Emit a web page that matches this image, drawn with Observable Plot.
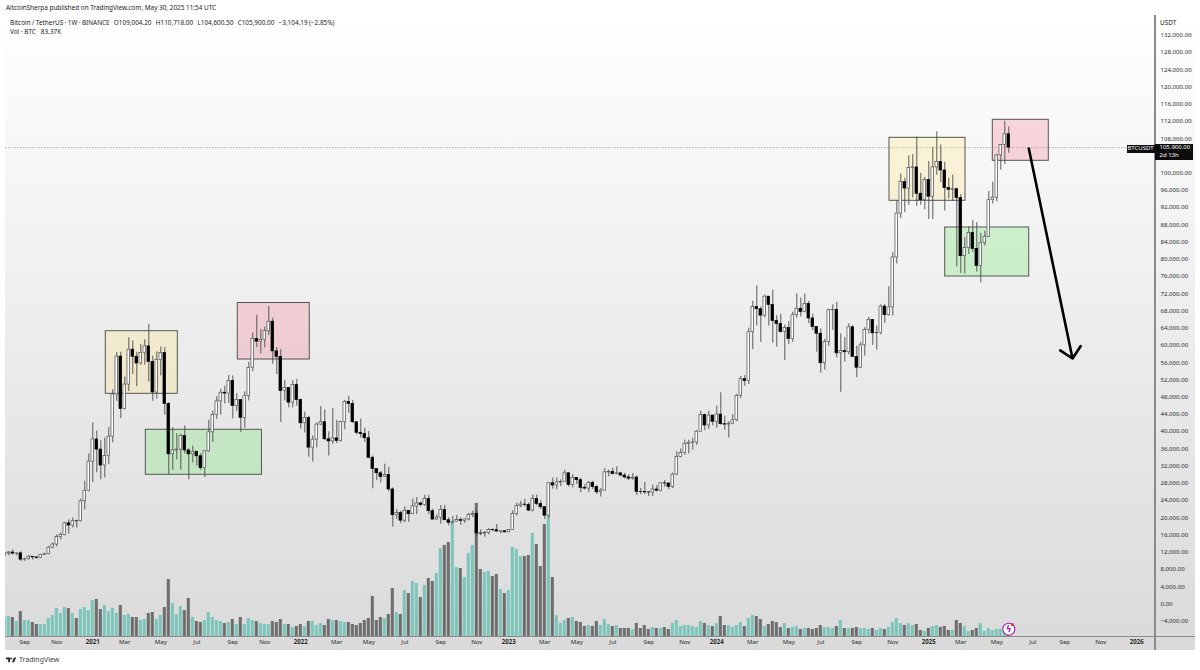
<!DOCTYPE html>
<html>
<head>
<meta charset="utf-8">
<script src="https://cdn.jsdelivr.net/npm/d3@7"></script>
<script src="https://cdn.jsdelivr.net/npm/@observablehq/plot@0.6"></script>
<style>
html,body{margin:0;padding:0;background:#fff;width:1200px;height:670px;overflow:hidden;font-family:"Noto Sans",sans-serif;color:#222}
#pane{position:absolute;left:5px;top:15px;width:1190px;height:635px;background:linear-gradient(#ffffff,#dadada)}
#chart{position:absolute;left:0;top:0}
.vline{position:absolute;left:1154px;top:15px;width:1.5px;height:635px;background:#8a8a8a}
.hline{position:absolute;left:5px;top:635.5px;width:1190px;height:1px;background:#8a8a8a}
.t{position:absolute;white-space:pre;font-size:6.4px;line-height:8px}
.tag{position:absolute;background:#0c0c0c;color:#fff;white-space:pre;font-size:6px;line-height:7.6px}
</style>
</head>
<body>
<div id="pane"></div>
<div id="chart"></div>
<div class="vline"></div>
<div class="hline"></div>
<div class="t" style="left:6px;top:4px">AltcoinSherpa published on TradingView.com, May 30, 2025 11:54 UTC</div>
<div class="t" style="left:10px;top:19px;word-spacing:-0.25px">Bitcoin / TetherUS · 1W · BINANCE   O109,004.20   H110,718.00   L104,600.50   C105,900.00   −3,104.19 (−2.85%)</div>
<div class="t" style="left:10px;top:28px">Vol · BTC   83.37K</div>
<div class="t" style="left:1160px;top:19px">USDT</div>
<div class="tag" style="left:1126.5px;top:144.5px;width:28px;height:8px;text-align:center">BTCUSDT</div>
<div class="tag" style="left:1155px;top:144px;width:33.5px;height:15.5px;padding-left:4.5px">105,900.00<br>2d 13h</div>
<svg style="position:absolute;left:6px;top:657px" width="10.5" height="6" viewBox="0 0 14 8"><path d="M0 0.5h5.4v6.5h-2.4v-4.1h-3z M9 0.5h4.6l-3 6.5h-2.6l2.6-6.5z" fill="#222"/><circle cx="7" cy="2" r="1.2" fill="#222"/></svg>
<div class="t" style="left:19px;top:656px;font-size:7px;color:#444">TradingView</div>
<script>
const firstWeek = "2020-08-03";
const opens = [
 11070,11680,11910,11650,11710,10250,10330,10920,10770,10660,11370,11500,13030,13760,15480,15970,18680,18170,19170,19150,23800,26250,
 33000,38150,35800,32100,34300,38800,48600,57400,45200,50900,59000,57350,55800,58200,59770,56150,49060,56600,58200,46400,34700,35600,35800,39000,35600,34700,35300,34250,31500,35400,39800,43800,47000,49000,48800,51750,45900,47300,43170,48200,54800,61500,60860,61300,63270,65500,58600,57300,49400,50100,46700,50800,
 47300,41900,43100,36250,38100,41600,42150,38200,37700,38400,37800,42200,46850,46400,42150,39700,39450,38450,33900,31300,30300,29450,29900,26550,20570,21050,19300,21600,20800,22600,23300,22950,24300,21500,19550,19990,21800,19400,18800,19050,19440,19260,19570,20630,20900,16330,16280,16430,17100,17090,16780,16840,
 16600,17100,20870,22700,23030,22950,21630,24300,23170,22430,20460,27990,27470,28170,28320,30300,27590,29230,28700,26900,26750,28070,27100,25900,26300,30500,30580,30170,30290,29780,29340,29050,29300,26000,25980,25870,25830,26530,26250,27970,27930,27150,29990,34080,35000,37050,37380,37450,39950,43800,41400,43700,
 42250,43930,41700,41600,41800,42600,48300,52150,51700,63050,68900,68400,66900,71300,69360,65650,64950,63100,64000,61500,67000,68500,67750,69650,66250,64250,62700,55850,60800,68150,68250,58150,58700,58400,64200,57300,54800,60000,63550,65900,62800,62850,69000,67000,68800,80400,90600,97900,96400,101200,101300,95200,93700,
 98400,94500,101300,102600,100600,96500,96100,96250,94200,80700,82600,86100,82400,78400,83700,85200,93700,94300,104100,106500,109004.2
];
const closes = [
 11680,11910,11650,11710,10250,10330,10920,10770,10660,11370,11500,13030,13760,15480,15970,18680,18170,19170,19150,23800,26250,33000,
 38150,35800,32100,34300,38800,48600,57400,45200,50900,59000,57350,55800,58200,59770,56150,49060,56600,58200,46400,34700,35600,35800,39000,35600,34700,35300,34250,31500,35400,39800,43800,47000,49000,48800,51750,45900,47300,43170,48200,54800,61500,60860,61300,63270,65500,58600,57300,49400,50100,46700,50800,47300,
 41900,43100,36250,38100,41600,42150,38200,37700,38400,37800,42200,46850,46400,42150,39700,39450,38450,33900,31300,30300,29450,29900,26550,20570,21050,19300,21600,20800,22600,23300,22950,24300,21500,19550,19990,21800,19400,18800,19050,19440,19260,19570,20630,20900,16330,16280,16430,17100,17090,16780,16840,16600,
 17100,20870,22700,23030,22950,21630,24300,23170,22430,20460,27990,27470,28170,28320,30300,27590,29230,28700,26900,26750,28070,27100,25900,26300,30500,30580,30170,30290,29780,29340,29050,29300,26000,25980,25870,25830,26530,26250,27970,27930,27150,29990,34080,35000,37050,37380,37450,39950,43800,41400,43700,42250,
 43930,41700,41600,41800,42600,48300,52150,51700,63050,68900,68400,66900,71300,69360,65650,64950,63100,64000,61500,67000,68500,67750,69650,66250,64250,62700,55850,60800,68150,68250,58150,58700,58400,64200,57300,54800,60000,63550,65900,62800,62850,69000,67000,68800,80400,90600,97900,96400,101200,101300,95200,93700,98400,
 94500,101300,102600,100600,96500,96100,96250,94200,80700,82600,86100,82400,78400,83700,85200,93700,94300,104100,106500,109000,105900
];
const highs = [
 11900,12090,12490,11810,12050,10580,11220,10990,10950,11490,11720,13350,14100,15960,16480,18950,19500,19920,19420,24300,28420,34800,
 42000,40100,37850,38500,40950,49700,58350,58400,52640,61800,61000,58400,60200,61300,64850,57500,58500,59600,59500,46700,40900,39500,39400,41300,36000,36600,35100,34800,35500,42600,44700,48100,49800,50500,53000,52900,48800,47300,49200,56100,62900,67000,63700,64270,69000,66300,59500,59000,51900,50200,51800,52100,
 47550,44500,43500,38950,42000,45800,45000,39900,45300,42600,42350,47200,48200,47200,41500,42900,40800,40000,34300,31000,30700,32400,31700,26900,21900,21500,22500,21600,24300,24650,23600,25200,25200,22000,20600,22800,22800,19950,20300,20500,19950,19700,21000,21480,21470,17200,16800,17500,17430,18400,17000,16900,
 17200,21600,23370,23800,24250,23450,25250,25250,23900,22600,28000,29200,29200,28800,31000,30500,30000,29300,29100,27650,28450,28450,27400,26800,31400,31050,31500,31800,30400,30300,30000,30250,29700,26800,28150,26100,27500,27450,28050,28600,28000,30350,35300,35950,38000,38000,38450,40250,44700,44050,44700,43800,
 45900,49000,43550,42250,43900,48600,52800,53000,64000,70200,73800,68900,71700,71300,72800,66900,67200,64700,65500,67700,71950,71000,71900,70200,67300,63400,63850,61400,68400,69400,70000,62700,61800,65000,64500,59800,60700,64100,66500,66000,64500,69400,69500,73600,81500,93500,99800,98800,104000,104300,108350,99900,99000,
 102700,106000,109600,106500,102500,98800,99500,96500,95000,85000,87500,89000,88500,86000,86500,95700,97900,104300,106600,112000,110718
];
const lows = [
 10950,11130,11360,11140,9820,9850,10200,10140,10370,10530,11190,11410,12750,13200,14850,15780,16200,17600,17580,19000,21800,26000,
 28130,30420,28800,29240,32300,37350,47000,43000,45000,49270,53270,50400,55400,55400,51500,47000,47500,52900,43800,30000,31000,33400,31000,34800,28800,32700,32000,31000,29300,35200,37500,42800,43800,46400,46500,42900,44700,39800,40750,47100,53900,59500,58000,59400,62300,55600,53250,42100,47100,45500,45500,45900,
 40500,39650,34000,32900,36200,41400,37900,34300,37000,37200,37550,40400,44200,41900,39200,38500,37500,33700,26700,28600,28000,29300,26000,17800,19600,18600,18800,18900,20700,20700,22500,22650,20760,19500,19500,18500,19320,18100,18500,19000,18200,18650,19250,20000,15600,15800,15450,16000,16700,16600,16250,16450,
 16500,17050,20400,22300,22500,21400,21350,22750,21900,19550,19900,26600,26500,27200,28200,27100,26900,27700,25800,26400,25800,26500,25350,24800,26250,29500,29900,29950,29500,29000,28600,28700,25150,25350,25350,24900,24900,26000,26000,27100,26500,26750,29800,33900,34500,34800,35650,36800,39950,40200,40500,41300,
 40750,41500,40300,38500,41600,42250,47700,50500,50900,59000,64500,60700,66400,64500,60500,59600,62800,56500,60150,60700,66300,66600,67550,65050,63400,58400,53500,54250,59700,63500,57100,49100,56100,57800,57200,52500,54600,57500,62650,60000,58900,62450,65100,66800,66800,78900,89400,90800,92500,94200,92200,92500,91500,
 89250,89200,99500,97750,91200,94000,93400,78200,76700,76600,81100,81600,77000,74500,83100,85000,92800,93300,100700,102000,104600.5
];
// weekly volume, thousands of BTC
const volumes = [
 228,240,228,180,300,192,192,168,144,144,144,216,252,336,276,348,336,276,216,324,348,312,
 432,444,324,372,300,336,276,372,252,264,228,228,192,204,276,288,204,252,348,684,396,264,360,312,456,228,180,168,192,288,228,192,180,156,168,204,144,228,144,216,192,180,156,144,144,180,168,204,144,144,108,120,
 144,120,180,180,132,156,132,204,192,192,180,168,168,144,132,156,192,216,480,192,228,216,264,576,288,264,552,516,660,636,468,612,696,660,756,1056,1092,1128,1356,828,816,708,996,1092,1596,804,768,780,720,744,564,516,
 552,1068,1044,960,960,972,1236,1104,840,1344,1512,708,252,156,192,216,228,180,168,120,132,120,180,132,204,144,120,132,96,96,96,84,156,96,132,84,108,96,96,108,84,156,192,120,132,132,120,108,180,156,132,120,
 156,240,132,132,108,132,168,120,216,252,240,204,120,144,180,168,108,156,96,108,120,84,96,96,84,96,132,108,108,96,120,192,96,96,96,108,96,96,84,96,72,96,84,108,168,216,156,132,156,132,144,72,60,
 96,120,132,108,120,72,72,192,156,120,60,72,96,156,60,96,72,84,84,84,83.37
];
const priceTicks = [-4000,0,4000,8000,12000,16000,20000,24000,28000,32000,36000,40000,44000,48000,52000,56000,60000,64000,68000,72000,76000,80000,84000,88000,92000,96000,100000,108000,112000,116000,120000,124000,128000,132000];
const monthTicks = ["2020-09-07","2020-11-02","2021-03-01","2021-05-03","2021-07-05","2021-09-06","2021-11-01","2022-03-07","2022-05-02","2022-07-04","2022-09-05","2022-11-07","2023-03-06","2023-05-01","2023-07-03","2023-09-04","2023-11-06","2024-03-04","2024-05-06","2024-07-01","2024-09-02","2024-11-04","2025-03-03","2025-05-05","2025-07-07","2025-09-01","2025-11-03"];
const monthLabels = ["Sep","Nov","Mar","May","Jul","Sep","Nov","Mar","May","Jul","Sep","Nov","Mar","May","Jul","Sep","Nov","Mar","May","Jul","Sep","Nov","Mar","May","Jul","Sep","Nov"];
const yearTicks = ["2021-01-04","2022-01-03","2023-01-02","2024-01-01","2025-01-06","2026-01-05"];
const yearLabels = ["2021","2022","2023","2024","2025","2026"];
const boxStarts = ["2021-01-26T18:00Z","2021-04-06T18:00Z","2021-09-14T18:00Z","2024-10-29T05:00Z","2025-02-03T17:00Z","2025-04-28T00:00Z"];
const boxEnds   = ["2021-06-01T18:00Z","2021-10-27T00:00Z","2022-01-18T18:00Z","2025-03-11T05:00Z","2025-06-30T17:00Z","2025-08-04T00:00Z"];
const boxTops   = [63285,40395,69832,108180,87360,112360];
const boxBottoms= [48752,29948,56715,93558,75983,102844];
const boxColors = ["#ffe680","#8fe88a","#f28a9c","#ffe680","#8fe88a","#f28a9c"];
const boxOpacity= [0.27,0.38,0.32,0.27,0.38,0.32];
const lastPrice = 105900;

const day = 864e5;
const bars = closes.map((c,i)=>{
  const date = d3.utcDay.offset(new Date(firstWeek+"T00:00Z"), i*7);
  return {date, open:opens[i], high:highs[i], low:lows[i], close:c, volume:volumes[i], up:c>=opens[i]};
});
const boxes = boxStarts.map((s,i)=>({x1:new Date(s),x2:new Date(boxEnds[i]),top:boxTops[i],bottom:boxBottoms[i],color:boxColors[i],alpha:boxOpacity[i]}));
const dates = a=>a.map(s=>new Date(s+"T00:00Z"));
const shift = (d,n)=>new Date(+d+n*day);
const volBase = -7591, volUnit = 19.35;
const fmt = d3.format(",.2f");
const fontFamily = '"Noto Sans",sans-serif';
const monthDates = dates(monthTicks), yearDates = dates(yearTicks);
const last = bars[bars.length-1];

const plot = Plot.plot({
  width:1200, height:670,
  marginLeft:5, marginRight:46, marginTop:15, marginBottom:34,
  style:{background:"transparent",fontFamily,fontSize:"6.1px",color:"#2a2a2a"},
  x:{type:"utc",domain:[new Date("2020-08-04T05:24Z"),new Date("2026-02-04T23:24Z")],range:[5,1154]},
  y:{domain:[volBase,136576],range:[636,15]},
  marks:[
    Plot.rect(bars,{x1:d=>shift(d.date,-2.7),x2:d=>shift(d.date,2.7),y1:volBase,y2:d=>volBase+d.volume*volUnit,fill:d=>d.up?"#7cc5bb":"#6e6e6e",clip:true}),
    Plot.ruleY([lastPrice],{stroke:"#8a8a8a",strokeWidth:0.7,strokeDasharray:"1.5,1.5"}),
    Plot.rect(boxes,{x1:"x1",x2:"x2",y1:"bottom",y2:"top",fill:"color",fillOpacity:"alpha",stroke:"#555",strokeWidth:1}),
    Plot.ruleX(bars,{x:"date",y1:"low",y2:"high",stroke:"#4a4a4a",strokeWidth:0.9,clip:true}),
    Plot.rect(bars,{x1:d=>shift(d.date,-2.3),x2:d=>shift(d.date,2.3),y1:"open",y2:"close",fill:d=>d.up?"#ffffff":"#000000",stroke:d=>d.up?"#4a4a4a":"#000000",strokeWidth:0.7,clip:true}),
    Plot.arrow([{x1:new Date("2025-06-30T00:00Z"),y1:105700,x2:new Date("2025-09-14T12:00Z"),y2:56950}],{x1:"x1",y1:"y1",x2:"x2",y2:"y2",stroke:"#000",strokeWidth:2.6,headLength:8.5,headAngle:90}),
    Plot.dot([last],{x:"date",y:-5897,r:6,fill:"#fff",stroke:"#9c27b0",strokeWidth:1.1}),
    Plot.text([last],{x:"date",y:-5897,text:()=>"ϟ",fill:"#9c27b0",fontSize:9,fontWeight:"bold",fontFamily:"DejaVu Sans"}),
    Plot.dot([last],{x:d=>shift(d.date,6),y:-4800,r:1.5,fill:"#e53935"}),
    Plot.axisY({anchor:"right",ticks:priceTicks,tickSize:0,tickPadding:6,label:null,tickFormat:d=>d<0?"−"+fmt(-d):fmt(d)}),
    Plot.axisX({anchor:"bottom",ticks:monthDates,tickSize:0,tickPadding:3,label:null,tickFormat:d=>monthLabels[monthDates.findIndex(m=>+m===+d)]}),
    Plot.axisX({anchor:"bottom",ticks:yearDates,tickSize:0,tickPadding:3,label:null,fontWeight:"bold",tickFormat:d=>yearLabels[yearDates.findIndex(m=>+m===+d)]})
  ]
});
document.getElementById("chart").appendChild(plot);
</script>
</body>
</html>
